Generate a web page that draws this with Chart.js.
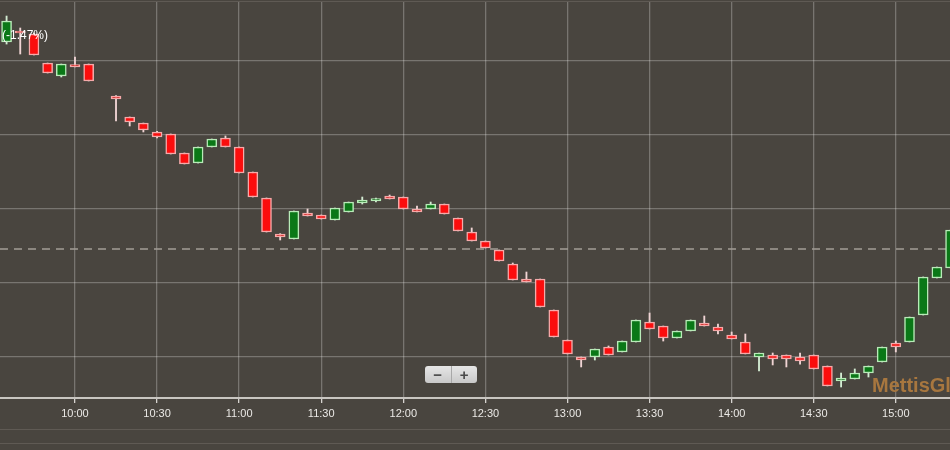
<!DOCTYPE html>
<html lang="en">
<head>
  <meta charset="UTF-8">
  <title>Intraday 5-min candles</title>
  <script src="https://cdn.jsdelivr.net/npm/chart.js@4.4.1/dist/chart.umd.min.js"></script>
  <style>
    body {
      margin: 0;
      background: #49453f;
      overflow: hidden;
      font-family: 'Liberation Sans', Arial, sans-serif;
    }
    #wrap { position: relative; width: 950px; height: 450px; overflow: hidden; }
    canvas { position: absolute; left: 0; top: 0; }
    .change { position: absolute; left: 2px; top: 28px; color: #fff; font-size: 12px; }
    .zoom {
      position: absolute; left: 425px; top: 366px; width: 52px; height: 17px;
      background: linear-gradient(#e6e6e6, #c9c9c9); border-radius: 3px;
      display: flex; color: #4a4a4a; font-weight: bold; font-size: 15px; line-height: 17px;
    }
    .zoom span { flex: 1; text-align: center; }
    .zoom span:first-child { border-right: 1px solid #a8a8a8; }
    .brand {
      position: absolute; left: 872px; top: 374px; color: #a8773f;
      font-weight: bold; font-size: 20px; white-space: nowrap;
    }
    .rule { position: absolute; left: 0; width: 950px; height: 1px; background: #5f5a54; }
  </style>
</head>
<body>
  <div id="wrap">
    <canvas id="chart" width="950" height="450"></canvas>
    <div class="rule" style="top:1px"></div>
    <div class="rule" style="top:429px"></div>
    <div class="rule" style="top:443px"></div>
    <div class="change">(-1.47%)</div>
    <div class="brand">MettisGlobal</div>
    <div class="zoom"><span>&minus;</span><span>+</span></div>
  </div>

  <script>
    // 5-minute candles, one session (10:10 has no candle)
    const times = ['09:35','09:40','09:45','09:50','09:55','10:00','10:05','10:10','10:15','10:20',
                   '10:25','10:30','10:35','10:40','10:45','10:50','10:55','11:00','11:05','11:10',
                   '11:15','11:20','11:25','11:30','11:35','11:40','11:45','11:50','11:55','12:00',
                   '12:05','12:10','12:15','12:20','12:25','12:30','12:35','12:40','12:45','12:50',
                   '12:55','13:00','13:05','13:10','13:15','13:20','13:25','13:30','13:35','13:40',
                   '13:45','13:50','13:55','14:00','14:05','14:10','14:15','14:20','14:25','14:30',
                   '14:35','14:40','14:45','14:50','14:55','15:00','15:05','15:10','15:15','15:20'];
    const opens  = [142.59,144.07,143.67,139.74,137.98,139.54,139.61,null,135.28,132.44,
                    131.62,130.41,130.14,127.57,126.21,128.38,129.60,128.38,124.99,121.48,
                    116.60,115.93,119.45,119.18,118.50,119.58,120.80,121.07,121.75,121.61,
                    119.99,119.99,120.66,118.77,116.87,115.66,114.44,112.54,110.51,110.51,
                    106.32,102.26,99.96,99.96,101.31,100.64,101.99,104.70,104.15,102.53,
                    103.48,104.56,104.02,102.94,101.99,99.96,100.23,100.23,99.96,100.23,
                    98.74,96.71,96.98,97.79,99.28,101.85,101.99,105.64,110.65,112.00];
    const highs  = [146.10,144.48,143.80,139.74,139.61,140.56,139.61,null,135.35,132.44,
                    131.62,130.50,130.14,127.57,128.38,129.46,129.87,128.38,124.99,121.48,
                    116.65,119.72,119.99,119.18,120.12,120.93,121.61,121.48,121.88,121.61,
                    120.39,120.93,120.66,118.77,117.42,115.66,114.44,112.68,111.46,110.51,
                    106.32,102.26,99.96,101.04,101.45,102.12,104.97,105.91,104.15,103.48,
                    104.97,105.51,104.42,103.34,103.07,100.50,100.50,100.23,100.50,100.23,
                    98.74,97.79,98.34,98.74,101.31,102.12,105.37,110.79,112.14,117.15];
    const lows   = [142.31,140.96,140.83,138.39,137.85,139.20,137.31,null,131.90,131.22,
                    130.41,129.60,127.43,126.08,126.21,128.38,128.38,124.86,121.61,116.87,
                    115.79,115.93,119.04,118.63,118.50,119.58,120.66,120.93,121.34,119.99,
                    119.58,119.99,119.31,117.01,115.66,114.71,112.95,110.38,110.11,106.73,
                    102.67,100.37,98.61,99.55,100.23,100.64,101.99,103.75,102.12,102.53,
                    103.48,104.15,103.07,102.40,100.37,98.06,98.88,98.61,99.00,98.34,
                    96.04,95.90,96.98,97.25,99.28,100.64,101.99,105.64,110.65,112.00];
    const closes = [145.43,143.80,140.83,138.39,139.61,139.20,137.31,null,134.87,131.76,
                    130.68,129.73,127.43,126.08,128.38,129.46,128.38,124.86,121.61,116.87,
                    116.20,119.72,119.04,118.63,120.12,120.93,121.20,121.41,121.34,119.99,
                    119.58,120.66,119.31,117.01,115.66,114.71,112.95,110.38,110.11,106.73,
                    102.67,100.37,99.55,101.04,100.23,102.12,104.97,103.75,102.53,103.48,
                    104.97,104.15,103.48,102.40,100.37,100.50,99.69,99.69,99.42,98.34,
                    96.04,97.12,97.79,98.74,101.31,101.31,105.37,110.79,112.14,117.15];
    const prevClose = 114.57;
    const gridValues = [100, 110, 120, 130, 140];
    const tickLabels = ['10:00','10:30','11:00','11:30','12:00','12:30','13:00','13:30','14:00','14:30','15:00'];

    const toMin = t => { const [h, m] = t.split(':').map(Number); return h * 60 + m; };
    const toLabel = v => Math.floor(v / 60) + ':' + String(v % 60).padStart(2, '0');
    const xMin = 572.6, xMax = 919.8;

    const idx = times.map((t, i) => i).filter(i => opens[i] != null);
    const up = idx.map(i => closes[i] >= opens[i]);
    const bodies = idx.map(i => ({ x: toMin(times[i]), y: [opens[i], closes[i]] }));
    const wicks = idx.map(i => ({ x: toMin(times[i]), y: [lows[i], highs[i]] }));

    new Chart(document.getElementById('chart'), {
      type: 'bar',
      data: {
        datasets: [
          {
            data: bodies,
            grouped: false,
            barThickness: 10,
            backgroundColor: up.map(u => u ? '#0a7817' : '#fb0d0d'),
            borderColor: up.map(u => u ? '#b8ebb8' : '#f6a9a9'),
            borderWidth: 1.5,
            borderSkipped: false
          },
          {
            data: wicks,
            grouped: false,
            barThickness: 1.2,
            backgroundColor: up.map(u => u ? '#d3ecd3' : '#f0d4d4'),
            borderWidth: 0
          },
          {
            type: 'line',
            data: [{ x: xMin, y: prevClose }, { x: xMax, y: prevClose }],
            borderColor: '#a29d96',
            borderWidth: 1.5,
            borderDash: [8, 6],
            pointRadius: 0
          }
        ]
      },
      options: {
        responsive: false,
        animation: false,
        devicePixelRatio: 1,
        layout: { padding: { top: 2, left: 0, right: 0, bottom: 0 } },
        plugins: { legend: { display: false }, tooltip: { enabled: false } },
        scales: {
          x: {
            type: 'linear',
            min: xMin,
            max: xMax,
            offset: false,
            afterBuildTicks: s => { s.ticks = tickLabels.map(l => ({ value: toMin(l) })); },
            afterFit: s => { s.height = 52; },
            grid: { offset: false, color: 'rgba(255,255,255,0.26)', lineWidth: 1.3, tickLength: 5, tickColor: '#d6d3cf' },
            border: { color: '#c9c6c1', width: 2 },
            ticks: {
              color: '#ebe9e6',
              font: { size: 11, family: "'Liberation Sans', Arial, sans-serif" },
              padding: 4,
              maxRotation: 0,
              autoSkip: false,
              callback: v => toLabel(v)
            }
          },
          y: {
            min: 94.41,
            max: 148.0,
            afterBuildTicks: s => { s.ticks = gridValues.map(v => ({ value: v })); },
            afterFit: s => { s.width = 0; },
            grid: { color: 'rgba(255,255,255,0.26)', lineWidth: 1.3, drawTicks: false },
            border: { display: false },
            ticks: { display: false }
          }
        }
      }
    });
  </script>
</body>
</html>
